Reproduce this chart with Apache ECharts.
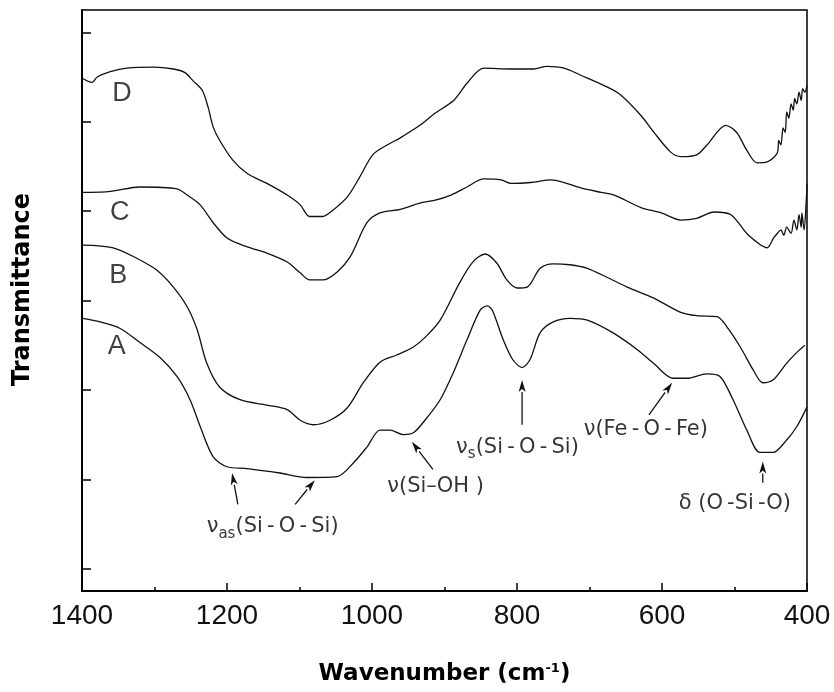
<!DOCTYPE html>
<html>
<head>
<meta charset="utf-8">
<script src="https://cdn.jsdelivr.net/npm/echarts@6/dist/echarts.min.js"></script>
<style>
  html, body { margin: 0; padding: 0; background: #fff; }
  #container { width: 834px; height: 692px; }
</style>
</head>
<body>
<div id="container"></div>
<script>
// wavenumber (cm-1) and transmittance (a.u., offset)
const waveD = [1400, 1386, 1379, 1361, 1338, 1302, 1274, 1258, 1247, 1234, 1226, 1219, 1210, 1192, 1172, 1145, 1117, 1099, 1086, 1068, 1054, 1034, 1017, 999, 979, 961, 934, 914, 887, 869, 846, 808, 777, 759, 735, 712, 676, 657, 629, 611, 588, 574, 552, 538, 512, 497, 483, 469, 455, 441, 439, 436, 433, 430, 428, 425, 422, 419, 417, 414, 411, 408, 406, 403, 400];
const transD = [5.49, 5.44, 5.50, 5.56, 5.60, 5.61, 5.59, 5.55, 5.46, 5.35, 5.16, 4.94, 4.79, 4.57, 4.42, 4.31, 4.18, 4.07, 3.94, 3.94, 4.01, 4.16, 4.38, 4.63, 4.74, 4.82, 4.96, 5.09, 5.24, 5.43, 5.60, 5.59, 5.59, 5.62, 5.60, 5.52, 5.39, 5.30, 5.07, 4.88, 4.66, 4.61, 4.63, 4.74, 4.96, 4.88, 4.68, 4.54, 4.55, 4.65, 4.79, 4.74, 4.93, 4.88, 5.11, 5.04, 5.20, 5.13, 5.26, 5.20, 5.33, 5.24, 5.37, 5.33, 5.41];

const waveC = [1400, 1389, 1361, 1320, 1269, 1255, 1237, 1219, 1200, 1172, 1145, 1117, 1099, 1086, 1068, 1048, 1030, 1007, 989, 961, 934, 914, 891, 869, 846, 822, 808, 781, 753, 735, 712, 684, 666, 629, 601, 574, 552, 528, 505, 483, 464, 459, 455, 446, 441, 436, 432, 428, 422, 418, 414, 411, 408, 407, 404, 401, 400];
const transC = [4.21, 4.21, 4.22, 4.27, 4.25, 4.18, 4.07, 3.87, 3.70, 3.60, 3.53, 3.43, 3.31, 3.23, 3.23, 3.32, 3.49, 3.87, 3.98, 4.02, 4.09, 4.12, 4.18, 4.27, 4.36, 4.35, 4.31, 4.32, 4.35, 4.32, 4.26, 4.21, 4.18, 4.04, 3.98, 3.90, 3.92, 3.99, 3.96, 3.75, 3.62, 3.60, 3.59, 3.70, 3.75, 3.79, 3.73, 3.82, 3.75, 3.90, 3.79, 3.96, 3.82, 3.98, 3.79, 4.12, 4.31];

const waveB = [1399, 1357, 1324, 1297, 1274, 1255, 1241, 1228, 1210, 1182, 1145, 1117, 1099, 1081, 1058, 1034, 1012, 989, 966, 943, 924, 906, 879, 861, 844, 828, 814, 800, 786, 768, 750, 727, 703, 676, 648, 612, 575, 552, 524, 510, 492, 474, 461, 447, 428, 414, 403];
const transB = [3.62, 3.59, 3.47, 3.34, 3.15, 2.93, 2.67, 2.30, 2.03, 1.89, 1.83, 1.78, 1.66, 1.61, 1.66, 1.80, 2.08, 2.31, 2.39, 2.48, 2.61, 2.78, 3.20, 3.43, 3.52, 3.42, 3.23, 3.14, 3.15, 3.36, 3.41, 3.40, 3.36, 3.26, 3.15, 3.03, 2.87, 2.83, 2.82, 2.70, 2.48, 2.22, 2.08, 2.11, 2.30, 2.42, 2.50];

const waveA = [1399, 1375, 1348, 1320, 1292, 1269, 1251, 1237, 1219, 1200, 1172, 1127, 1090, 1048, 1026, 1007, 989, 975, 957, 943, 927, 906, 888, 869, 851, 841, 834, 819, 806, 793, 782, 768, 750, 727, 703, 668, 634, 612, 585, 566, 538, 520, 502, 483, 465, 447, 428, 414, 400];
const transA = [2.80, 2.76, 2.69, 2.53, 2.36, 2.15, 1.89, 1.59, 1.25, 1.14, 1.12, 1.07, 1.02, 1.03, 1.18, 1.36, 1.55, 1.55, 1.50, 1.52, 1.66, 1.89, 2.19, 2.56, 2.89, 2.94, 2.89, 2.56, 2.34, 2.25, 2.34, 2.64, 2.76, 2.80, 2.78, 2.64, 2.45, 2.30, 2.13, 2.13, 2.18, 2.15, 1.89, 1.55, 1.30, 1.30, 1.44, 1.59, 1.81];

const xTicks = [400, 600, 800, 1000, 1200, 1400];
const yTicks = [0, 1, 2, 3, 4, 5, 6];

// curve names and where they sit
const curveNames = ['D', 'C', 'B', 'A'];
const curveNamePos = [[1345, 5.32], [1348, 3.98], [1350, 3.28], [1352, 2.48]];

// band assignments: text (left end, middle) and arrows [tailX, tailY, headX, headY]
const bandTexts = [
    '\u03bd{sub|as}(Si\u2009-\u2009O\u2009-\u2009Si)',
    '\u03bd(Si\u2013OH )',
    '\u03bd{sub|s}(Si\u2009-\u2009O\u2009-\u2009Si)',
    '\u03bd(Fe\u2009-\u2009O\u2009-\u2009Fe)',
    '\u03b4 (O\u2009-Si\u2009-O)'
];
const bandTextPos = [[1228, 0.47], [979, 0.92], [884, 1.36], [708, 1.56], [577, 0.73]];
const bandArrows = [
    [1185, 0.72, 1193, 1.07],
    [1106, 0.72, 1079, 0.99],
    [916, 1.11, 945, 1.42],
    [793, 1.61, 793, 2.11],
    [618, 1.72, 586, 2.08],
    [461, 0.96, 461, 1.20]
];

function zip(xs, ys) {
    return xs.map(function (x, i) { return [x, ys[i]]; });
}

let dom = document.getElementById('container');
let myChart = echarts.init(dom);

const lineFont = 'DejaVu Sans';

function spectrum(name, xs, ys) {
    return {
        name: name,
        type: 'line',
        data: zip(xs, ys),
        symbol: 'none',
        smooth: 0.3,
        lineStyle: { color: '#111', width: 1.3 },
        silent: true,
        z: 3
    };
}

let option = {
    animation: false,
    backgroundColor: '#fff',
    grid: {
        left: 82, right: 27, top: 10, bottom: 101,
        show: true, borderColor: '#000', borderWidth: 1.5
    },
    xAxis: {
        type: 'value',
        inverse: true,
        min: 400,
        max: 1400,
        interval: 200,
        name: 'Wavenumber (cm{sup|-1})',
        nameLocation: 'middle',
        nameGap: 71,
        nameTextStyle: {
            fontFamily: lineFont, fontWeight: 'bold', fontSize: 23, color: '#000',
            rich: { sup: { fontFamily: lineFont, fontWeight: 'bold', fontSize: 13, padding: [0, 0, 12, 0], color: '#000' } }
        },
        axisLine: { show: true, onZero: false, lineStyle: { color: '#000', width: 2 } },
        axisTick: { inside: true, length: 8, lineStyle: { color: '#000', width: 1.5 } },
        minorTick: { show: true, splitNumber: 2, length: 4, lineStyle: { color: '#000', width: 1.5 } },
        axisLabel: {
            margin: 11, fontFamily: 'Liberation Sans', fontSize: 28, color: '#111',
            formatter: function (v) { return xTicks.indexOf(v) >= 0 ? String(v) : ''; }
        },
        splitLine: { show: false }
    },
    yAxis: {
        type: 'value',
        min: -0.25,
        max: 6.25,
        name: 'Transmittance',
        nameLocation: 'middle',
        nameGap: 47,
        nameTextStyle: { fontFamily: lineFont, fontWeight: 'bold', fontSize: 24, color: '#000', padding: [0, 0, 0, 22] },
        axisLine: { show: true, onZero: false, lineStyle: { color: '#000', width: 2 } },
        axisTick: { inside: true, length: 9, customValues: yTicks, lineStyle: { color: '#000', width: 1.5 } },
        axisLabel: { show: false },
        splitLine: { show: false }
    },
    series: [
        spectrum('D', waveD, transD),
        spectrum('C', waveC, transC),
        spectrum('B', waveB, transB),
        spectrum('A', waveA, transA),
        {
            type: 'scatter',
            silent: true,
            symbolSize: 0,
            data: curveNamePos.map(function (p, i) { return { value: p, name: curveNames[i] }; }),
            label: {
                show: true, position: 'inside', formatter: '{b}',
                fontFamily: 'Liberation Sans', fontSize: 27, color: '#111'
            }
        },
        {
            type: 'scatter',
            silent: true,
            symbolSize: 0,
            data: bandTextPos.map(function (p, i) { return { value: p, name: bandTexts[i] }; }),
            label: {
                show: true, position: 'right', distance: 0, formatter: '{b}',
                fontFamily: lineFont, fontSize: 21, color: '#000',
                rich: { sub: { fontFamily: lineFont, fontSize: 15, color: '#000', padding: [14, 0, 0, 0] } }
            }
        },
        {
            type: 'custom',
            silent: true,
            data: bandArrows,
            encode: { x: [0, 2], y: [1, 3] },
            renderItem: function (params, api) {
                let p1 = api.coord([api.value(0), api.value(1)]);
                let p2 = api.coord([api.value(2), api.value(3)]);
                let dx = p2[0] - p1[0], dy = p2[1] - p1[1];
                let len = Math.sqrt(dx * dx + dy * dy);
                let ux = dx / len, uy = dy / len;
                let hl = 12, hw = 3.5;
                let bx = p2[0] - ux * hl, by = p2[1] - uy * hl;
                return {
                    type: 'group',
                    children: [{
                        type: 'line',
                        shape: { x1: p1[0], y1: p1[1], x2: bx, y2: by },
                        style: { stroke: '#111', lineWidth: 1.3 }
                    }, {
                        type: 'polygon',
                        shape: { points: [[p2[0], p2[1]], [bx - uy * hw, by + ux * hw], [bx + ux * 3, by + uy * 3], [bx + uy * hw, by - ux * hw]] },
                        style: { fill: '#111' }
                    }]
                };
            }
        }
    ]
};

if (option && typeof option === 'object') {
    myChart.setOption(option, true);
}
</script>
</body>
</html>
